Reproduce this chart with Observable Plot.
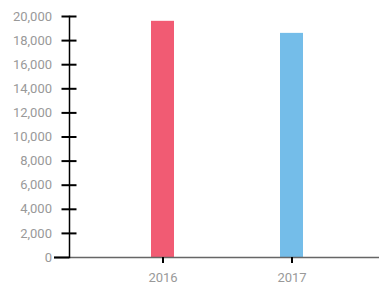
<!DOCTYPE html>
<html><head><meta charset="utf-8">
<script src="https://cdn.jsdelivr.net/npm/d3@7"></script>
<script src="https://cdn.jsdelivr.net/npm/@observablehq/plot@0.6"></script>
<style>body{margin:0;background:#fff;font-family:Roboto,sans-serif}</style>
</head><body><div id="chart"></div>
<script>
const years = ["2016", "2017"];
const values = [19600, 18600];
const colors = ["#f15b73", "#74bde9"];
const yTicks = [0, 2000, 4000, 6000, 8000, 10000, 12000, 14000, 16000, 18000, 20000];
const data = years.map((y, i) => ({year: y, value: values[i], color: colors[i]}));
const fmt = d3.format(",");
const chart = Plot.plot({
  width: 379, height: 285,
  marginLeft: 69, marginRight: 0, marginTop: 16, marginBottom: 28,
  style: {fontFamily: "Roboto, sans-serif", fontSize: "13px", background: "#fff"},
  x: {type: "band", domain: years, paddingInner: 0.823, paddingOuter: 0.604, align: 0.516, label: null},
  y: {domain: [0, 20000], label: null},
  marks: [
    Plot.barY(data, {x: "year", y: "value", fill: "color"}),
    Plot.ruleY([0], {stroke: "#666", strokeWidth: 1.5, insetLeft: -15}),
    Plot.frame({anchor: "left", stroke: "#000", strokeWidth: 1.5}),
    Plot.axisY({ticks: yTicks.filter(d => d > 0), tickSize: 15, dx: 7.5, tickFormat: () => "", stroke: "#000", strokeWidth: 2, label: null}),
    Plot.axisY({ticks: [0], tickSize: 15, tickFormat: () => "", stroke: "#000", strokeWidth: 2, label: null}),
    Plot.axisY({ticks: yTicks, tickSize: 0, tickPadding: 17.5, tickFormat: fmt, fill: "#999", fontSize: 13, label: null}),
    Plot.axisX({tickSize: 6, tickPadding: 9, stroke: "#000", strokeWidth: 2, fill: "#999", fontSize: 13, label: null})
  ]
});
document.getElementById("chart").appendChild(chart);
</script></body></html>
